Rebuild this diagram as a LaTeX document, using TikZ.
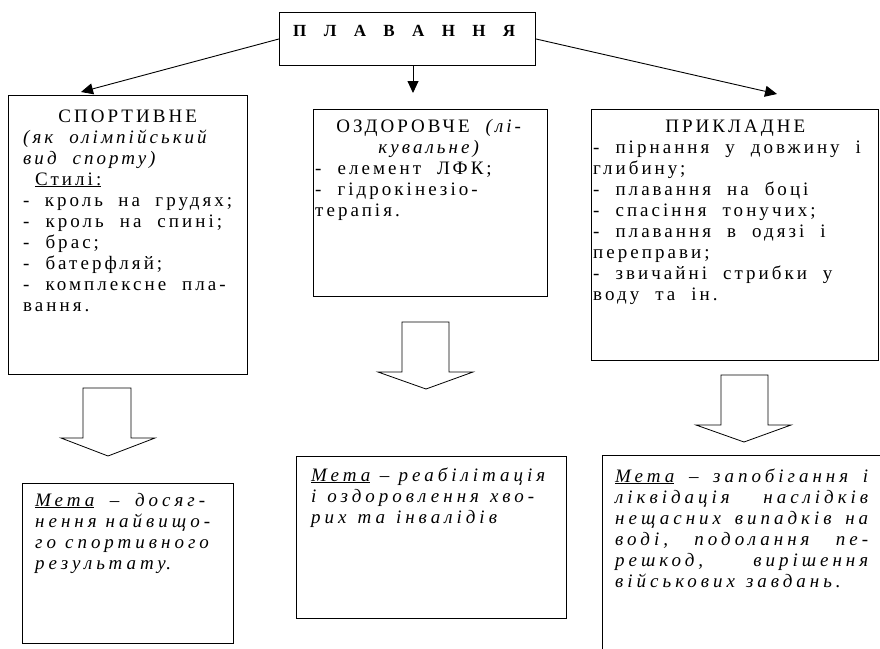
\documentclass[tikz,border=0pt]{standalone}
\usepackage{fontspec}
\setmainfont{Liberation Serif}
\newfontfamily\spfont[LetterSpace=16]{Liberation Serif}
\newfontfamily\gofont[LetterSpace=21]{Liberation Serif}
\usetikzlibrary{arrows.meta,calc}
\setlength{\lineskiplimit}{-20pt}
\setlength{\lineskip}{0pt}
\frenchspacing
\newcommand{\widespace}[1]{\spaceskip=#1 plus 14pt minus 2pt\relax\xspaceskip=\spaceskip}
\tikzset{
  box/.style={draw, line width=0.9pt, inner sep=0pt, anchor=north west, rectangle},
  txt/.style={anchor=base west, inner sep=0pt, align=left,
    font=\spfont\fontsize{19}{21}\selectfont, execute at begin node={\widespace{16pt}}},
  goal/.style={anchor=base west, inner sep=0pt, align=left,
    font=\gofont\itshape\fontsize{19}{21}\selectfont, execute at begin node={\widespace{11pt}}},
  blockarrow/.style={draw, line width=0.8pt, fill=white, line join=miter},
  link/.style={draw, line width=0.9pt, -{Triangle[length=12pt,width=11pt]}},
}
\newcommand{\jl}[1]{\makebox[\linewidth][s]{#1}}
\newcommand{\cl}[1]{\makebox[\linewidth][c]{#1}}
\begin{document}
\begin{tikzpicture}[x=1pt,y=-1pt]
\useasboundingbox[fill=white] (0,0) rectangle (880,648);

% title
\node[box, minimum width=256pt, minimum height=53pt] (title) at (279,12) {};
\node[anchor=base west, inner sep=0pt, font=\bfseries\fontsize{17}{20}\selectfont] (titletxt) at (293,36)
  {\hbox to 222pt{П\hfill Л\hfill А\hfill В\hfill А\hfill Н\hfill Н\hfill Я}};

% category boxes
\node[box, minimum width=239pt, minimum height=279pt] (sport) at (8,95) {};
\node[box, minimum width=234pt, minimum height=187pt] (health) at (313,109) {};
\node[box, minimum width=287pt, minimum height=251pt] (applied) at (591,109) {};

% connectors from title
\coordinate (aL) at (81,92);
\coordinate (aM) at (413,93);
\coordinate (aR) at (777,94);
\draw[link] (title.west) -- (aL);
\draw[link] (title.south -| aM) -- (aM);
\draw[link] (title.east) -- (aR);

% texts of category boxes
\node[txt, text width=209pt] (sporttxt) at (23,122) {%
\cl{СПОРТИВНЕ}\\
\textit{(як олімпійський}\\
\textit{вид спорту)}\\
\hspace*{12pt}\underline{Стилі:}\\
- кроль на грудях;\\
- кроль на спині;\\
- брас;\\
- батерфляй;\\
- комплексне пла-\\
вання.};

\node[txt, text width=230pt] (healthtxt) at (315,132) {%
\cl{ОЗДОРОВЧЕ \textit{(лі-}}\\
\cl{\textit{кувальне)}}\\
- елемент ЛФК;\\
- гідрокінезіо-\\
терапія.};

\node[txt, text width=284pt] (appliedtxt) at (593,132) {%
\cl{ПРИКЛАДНЕ}\\
- пірнання у довжину і\\
глибину;\\
- плавання на боці\\
- спасіння тонучих;\\
- плавання в одязі і\\
переправи;\\
- звичайні стрибки у\\
воду та ін.};

% block arrows
\draw[blockarrow] (83,388) -- (131,388) -- (131,438) -- (155,438) -- (108,456) -- (61,438) -- (83,438) -- cycle;
\draw[blockarrow] (402,322) -- (449,322) -- (449,372) -- (473,372) -- (426,389) -- (378,372) -- (402,372) -- cycle;
\draw[blockarrow] (721,375) -- (768,375) -- (768,425) -- (791,425) -- (744,442) -- (696,425) -- (721,425) -- cycle;

% goal boxes
\node[box, minimum width=211pt, minimum height=160pt] (goalS) at (22,483) {};
\node[box, minimum width=270pt, minimum height=162pt] (goalH) at (296,456) {};
\node[box, minimum width=300pt, minimum height=220pt] (goalA) at (602,455) {};

\node[goal, text width=170pt] (goalStxt) at (35,506) {%
\jl{\underline{Мета} – досяг-}\\
\jl{нення найвищо-}\\
\jl{го спортивного}\\
результату\textup{.}};

\node[goal, text width=234pt] (goalHtxt) at (311,481) {%
\underline{Мета} – реабілітація\\
і оздоровлення хво-\\
рих та інвалідів};

\node[goal, text width=253pt] (goalAtxt) at (615,482) {%
\jl{\underline{Мета} – запобігання і}\\
\jl{ліквідація наслідків}\\
\jl{нещасних випадків на}\\
\jl{воді, подолання пе-}\\
\jl{решкод, вирішення}\\
військових завдань.};
\end{tikzpicture}
\end{document}
